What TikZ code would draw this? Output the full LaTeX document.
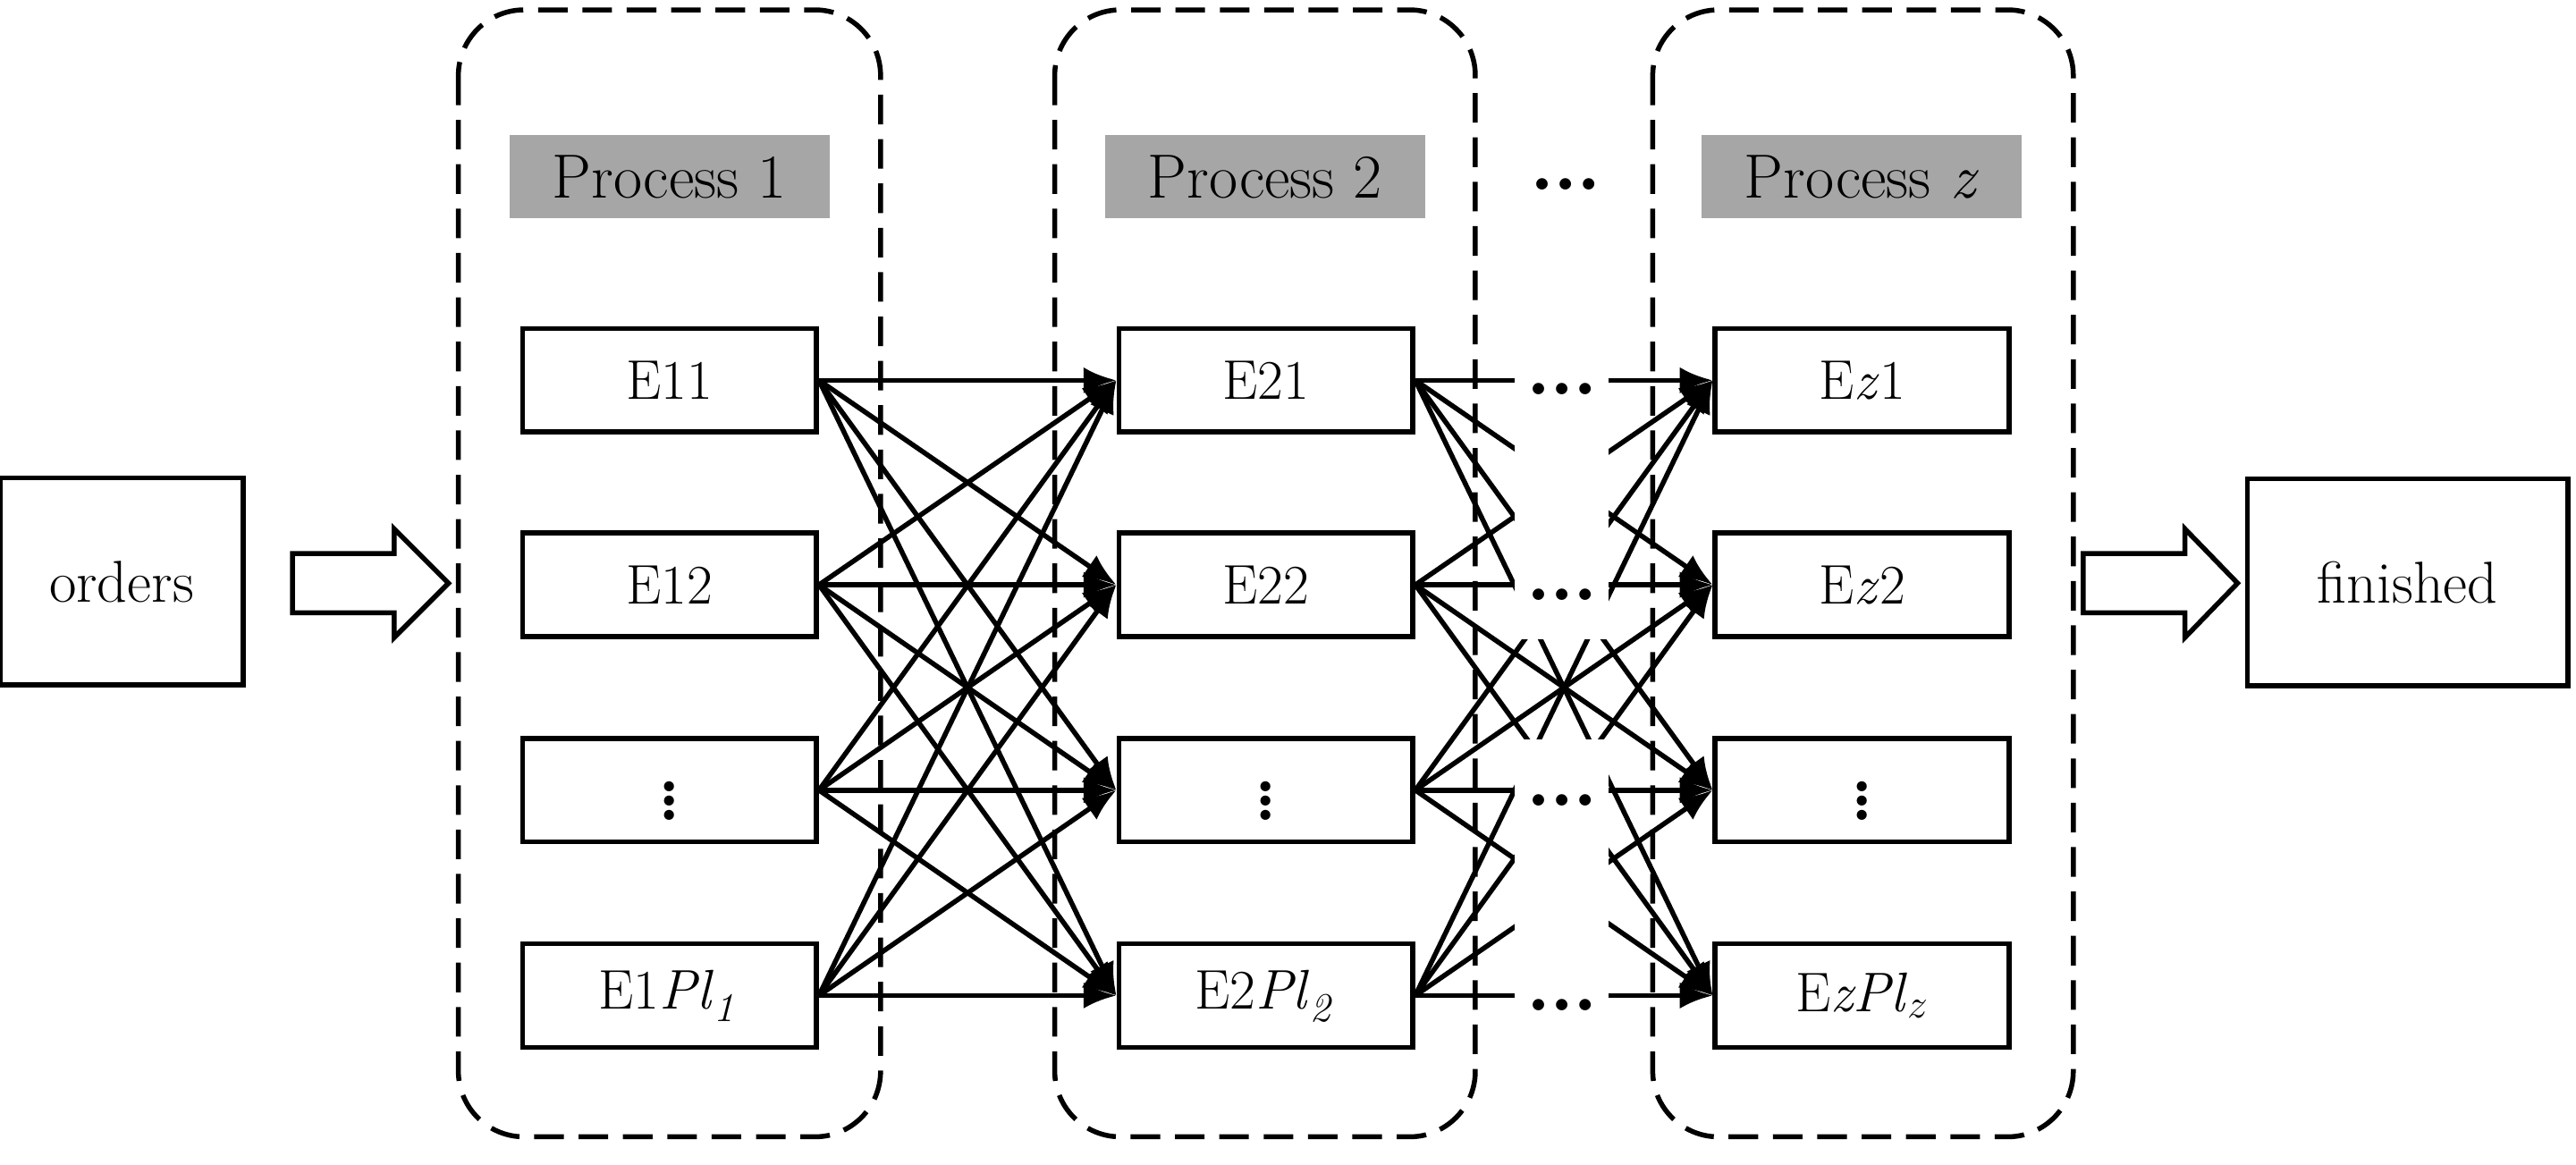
\documentclass[tikz,border=0pt]{standalone}
\usetikzlibrary{arrows.meta}
\usepackage{graphicx}
\begin{document}
\begin{tikzpicture}[x=1pt,y=-1pt,
  eb/.style={draw,line width=3pt,minimum width=179pt,minimum height=63pt,inner sep=0pt,font=\fontsize{34}{40}\selectfont},
  grp/.style={draw,line width=3pt,dash pattern=on 18pt off 9pt,rounded corners=40pt},
  pl/.style={fill=black!35,minimum width=195pt,minimum height=51pt,inner sep=0pt,font=\fontsize{38}{44}\selectfont},
  ob/.style={draw,line width=3pt,minimum height=126pt,inner sep=0pt,font=\fontsize{36}{42}\selectfont},
  con/.style={line width=3pt,-{Latex[length=20pt,width=16pt]}},
  dd/.style={font=\fontsize{34}{40}\selectfont,inner sep=0pt},
  hol/.style={draw,line width=3pt,fill=white}]
\useasboundingbox (0,0) rectangle (1568,709);
\draw[grp] (279,6) rectangle (536,692);
\draw[grp] (642,6) rectangle (898,692);
\draw[grp] (1006,6) rectangle (1262,692);
\node[pl] (p1) at (407.5,107.5) {Process 1};
\node[pl] (p2) at (770,107.5) {Process 2};
\node[pl] (pz) at (1133,107.5) {Process \textit{z}};
\node[dd] (pd) at (953,112) {\scalebox{2.5}{\dots}};
\foreach \c/\x in {1/407.5,2/770.5,3/1133.5}{
  \foreach \r/\y in {1/231.5,2/356,3/481,4/606}{
    \coordinate (c\c r\r) at (\x,\y);
  }}
\node[eb] (a1) at (c1r1) {E11};
\node[eb] (a2) at (c1r2) {E12};
\node[eb] (a3) at (c1r3) {\scalebox{2.2}{$\vdots$}};
\node[eb] (a4) at (c1r4) {E1\textit{Pl}$_{\mathit 1}$};
\node[eb] (b1) at (c2r1) {E21};
\node[eb] (b2) at (c2r2) {E22};
\node[eb] (b3) at (c2r3) {\scalebox{2.2}{$\vdots$}};
\node[eb] (b4) at (c2r4) {E2\textit{Pl}$_{\mathit 2}$};
\node[eb] (d1) at (c3r1) {E\textit{z}1};
\node[eb] (d2) at (c3r2) {E\textit{z}2};
\node[eb] (d3) at (c3r3) {\scalebox{2.2}{$\vdots$}};
\node[eb] (d4) at (c3r4) {E\textit{zPl}$_z$};
\foreach \i in {1,...,4}{\foreach \j in {1,...,4}{
  \draw[con] (a\i.east) -- (b\j.west);
  \draw[con] (b\i.east) -- (d\j.west);
}}
\fill[white] (922,192) rectangle (979,389);
\fill[white] (922,450) rectangle (979,645);
\foreach \r/\y in {1/237,2/362,3/487,4/612}{
  \node[dd] (g\r) at (951,\y) {\scalebox{2.5}{\dots}};
}
\node[ob,minimum width=148pt] (ord) at (74,354) {orders};
\node[ob,minimum width=195pt] (fin) at (1465.5,354.5) {finished};
\draw[hol] (178,337) -- (240,337) -- (240,322) -- (273,355) -- (240,388) -- (240,373) -- (178,373) -- cycle;
\draw[hol] (1268,337) -- (1330,337) -- (1330,322) -- (1362,355) -- (1330,388) -- (1330,373) -- (1268,373) -- cycle;
\end{tikzpicture}
\end{document}
